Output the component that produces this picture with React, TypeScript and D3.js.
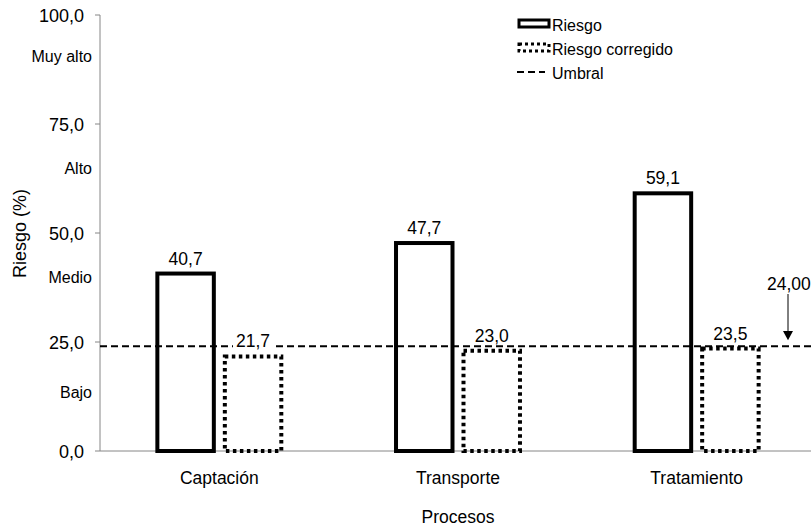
import React from "react";
import * as d3 from "d3";

const categories = ["Captación", "Transporte", "Tratamiento"];
const series = ["Riesgo", "Riesgo corregido"];
const riesgo = [40.7, 47.7, 59.1];
const riesgoCorregido = [21.7, 23.0, 23.5];
const umbral = 24.0;
const yTicks = [0, 25, 50, 75, 100];
const levelLabels = ["Bajo", "Medio", "Alto", "Muy alto"];
const levelValues = [13.5, 39.9, 64.9, 90.4];
const legendLabels = ["Riesgo", "Riesgo corregido", "Umbral"];

const W = 811;
const H = 526;
const FONT = "'Liberation Sans', Arial, sans-serif";
const fmt = (v: number, d = 1) => v.toFixed(d).replace(".", ",");

export default function App() {
  const x0 = 100;
  const y = d3.scaleLinear().domain([0, 100]).range([451, 15]);
  const x = d3.scaleBand<string>().domain(categories).range([x0, 816]).padding(0);
  const xs = d3
    .scaleBand<string>()
    .domain(series)
    .range([0, x.bandwidth()])
    .paddingInner(0.163)
    .paddingOuter(0.85);
  const values = [riesgo, riesgoCorregido];
  const dashes = ["none", "3.5,3.5"];
  const yU = y(umbral);
  const arrowX = 788;
  const fsVal = 17.5;

  const bars = series.flatMap((s, si) =>
    categories.map((c, ci) => {
      const v = values[si][ci];
      const bx = (x(c) as number) + (xs(s) as number);
      return { key: s + c, si, v, bx, bw: xs.bandwidth() };
    })
  );

  return (
    <svg
      width={W}
      height={H}
      style={{ position: "absolute", left: 0, top: 0, background: "#fff" }}
      fontFamily={FONT}
    >
      {/* axes */}
      <line x1={x0} x2={x0} y1={y(100)} y2={y(0)} stroke="#868686" strokeWidth={1} />
      <line x1={x0} x2={W} y1={y(0)} y2={y(0)} stroke="#868686" strokeWidth={1} />
      {yTicks.map((t) => (
        <g key={t}>
          <line x1={x0 - 5} x2={x0} y1={y(t)} y2={y(t)} stroke="#868686" />
          <text x={84} y={y(t)} dy="0.37em" textAnchor="end" fontSize={18}>
            {fmt(t)}
          </text>
        </g>
      ))}
      {levelLabels.map((l, i) => (
        <text key={l} x={92} y={y(levelValues[i])} dy="0.35em" textAnchor="end" fontSize={16}>
          {l}
        </text>
      ))}
      <text transform={`translate(26,${233.5}) rotate(-90)`} textAnchor="middle" fontSize={18}>
        Riesgo (%)
      </text>
      {categories.map((c) => (
        <text
          key={c}
          x={(x(c) as number) + x.bandwidth() / 2}
          y={478}
          dy="0.35em"
          textAnchor="middle"
          fontSize={17.5}
        >
          {c}
        </text>
      ))}
      <text x={458} y={517} dy="0.35em" textAnchor="middle" fontSize={17.5}>
        Procesos
      </text>

      {/* threshold */}
      <line x1={x0} x2={W} y1={yU} y2={yU} stroke="#000" strokeWidth={2} strokeDasharray="7,4" />

      {/* bars */}
      {bars.map((b) => (
        <rect
          key={b.key}
          x={b.bx}
          y={y(b.v)}
          width={b.bw}
          height={y(0) - y(b.v)}
          fill="none"
          stroke="#000"
          strokeWidth={4}
          strokeDasharray={dashes[b.si]}
        />
      ))}
      {bars.map((b) => {
        const tw = 1.95 * fsVal;
        const by = y(b.v) - 9;
        return (
          <g key={"l" + b.key}>
            <rect x={b.bx + b.bw / 2 - tw / 2 - 3} y={by - 13} width={tw + 6} height={15} fill="#fff" />
            <text x={b.bx + b.bw / 2} y={by} textAnchor="middle" fontSize={fsVal}>
              {fmt(b.v)}
            </text>
          </g>
        );
      })}

      {/* threshold annotation */}
      <text x={767} y={290} fontSize={17.5}>
        {fmt(umbral, 2)}
      </text>
      <line x1={arrowX} x2={arrowX} y1={294} y2={332} stroke="#000" strokeWidth={1} />
      <path d={`M${arrowX - 5},${331} L${arrowX + 5},${331} L${arrowX},${yU - 6} Z`} fill="#000" />

      {/* legend */}
      <g fontSize={16}>
        <rect x={519} y={20} width={30} height={7} fill="none" stroke="#000" strokeWidth={3} />
        <text x={552} y={25} dy="0.35em">{legendLabels[0]}</text>
        <rect x={519} y={44} width={30} height={7} fill="none" stroke="#000" strokeWidth={3} strokeDasharray="3,3" />
        <text x={552} y={49} dy="0.35em">{legendLabels[1]}</text>
        <line x1={517} x2={545} y1={72} y2={72} stroke="#000" strokeWidth={2} strokeDasharray="7,4" />
        <text x={552} y={73} dy="0.35em">{legendLabels[2]}</text>
      </g>
    </svg>
  );
}
